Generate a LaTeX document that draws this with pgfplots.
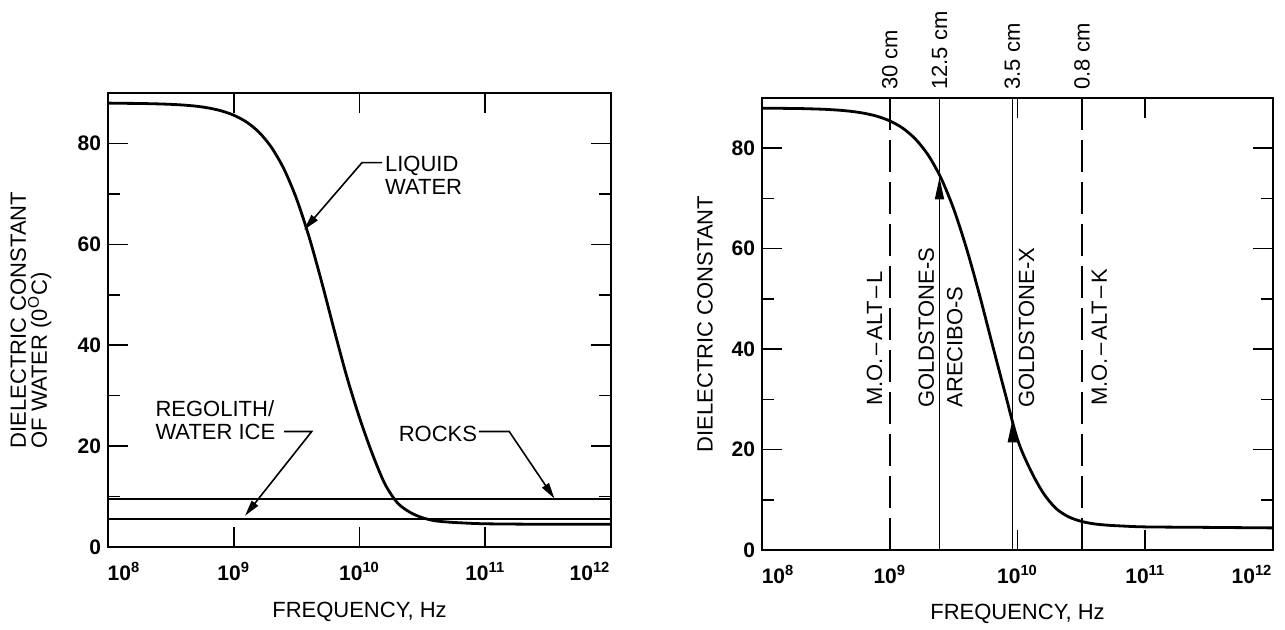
\documentclass[border=0pt]{standalone}
\usepackage{fontspec}
\setmainfont{Liberation Sans}
\usepackage{pgfplots}
\usepackage{pgfplotstable}
\pgfplotsset{compat=1.18}
\usetikzlibrary{arrows.meta}

\newcommand\annfont{\fontsize{11}{11.5}\selectfont}

% Dielectric constant of liquid water (0 C) versus frequency, left panel
\pgfplotstableread{
f        eps
1e8      88.0
1.259e8  87.96
1.585e8  87.94
1.995e8  87.90
2.512e8  87.84
3.162e8  87.75
3.981e8  87.61
5.012e8  87.39
6.310e8  87.03
7.943e8  86.47
1e9      85.6
1.259e9  84.27
1.585e9  82.24
1.995e9  79.22
2.512e9  74.89
3.162e9  68.98
3.981e9  61.39
5.012e9  52.45
6.310e9  42.89
7.943e9  33.68
1e10     25.63
1.259e10 18.6
1.585e10 12.6
1.995e10 8.8
2.512e10 6.9
3.162e10 5.8
3.981e10 5.2
5.012e10 4.95
6.310e10 4.8
1e11     4.6
3.162e11 4.5
1e12     4.5
}\waterleft

% Same relaxation curve, right panel
\pgfplotstableread{
f        eps
1e8      87.97
1.259e8  87.96
1.585e8  87.93
1.995e8  87.90
2.512e8  87.83
3.162e8  87.74
3.981e8  87.58
5.012e8  87.34
6.310e8  86.96
7.943e8  86.37
1e9      85.44
1.259e9  84.02
1.585e9  81.85
1.995e9  78.67
2.512e9  74.11
3.162e9  67.94
3.981e9  60.12
5.012e9  51.03
6.310e9  41.2
7.943e9  31.5
1e10     22.0
1.259e10 16.0
1.585e10 11.4
1.995e10 8.3
2.512e10 6.6
3.162e10 5.7
3.981e10 5.2
5.012e10 4.95
6.310e10 4.8
1e11     4.6
3.162e11 4.5
1e12     4.4
}\waterright

% Constant dielectric values of dry materials
\pgfplotstableread{
f     eps
1e8   9.5
1e12  9.5
}\rocks
\pgfplotstableread{
f     eps
1e8   5.5
1e12  5.5
}\regolith

\tikzset{
  dccurve/.style={black, line width=1.4pt},
  dclevel/.style={black, line width=1.2pt},
  dcpointer/.style={black, line width=0.8pt, -{Triangle[length=8pt,width=4pt]}},
}

\begin{document}
\begin{tikzpicture}[font=\annfont]
\useasboundingbox (0,0) rectangle (642.5pt,315pt);

% Left panel: water, water ice and rocks
\begin{axis}[
  scale only axis,
  at={(54pt,41.5pt)}, anchor=south west,
  width=251.5pt, height=227pt,
  xmode=log, log basis x=10,
  xmin=1e8, xmax=1e12, ymin=0, ymax=90,
  xtick={1e8,1e9,1e10,1e11,1e12},
  xticklabels={{\hspace*{16pt}10\textsuperscript{8}},10\textsuperscript{9},10\textsuperscript{10},10\textsuperscript{11},{10\textsuperscript{12}\hspace*{21pt}}},
  xminorticks=false,
  ytick={0,20,40,60,80},
  minor ytick={10,30,50,70},
  tick align=inside,
  major tick length=10pt,
  minor tick length=6pt,
  tick style={black, line width=0.8pt},
  axis line style={line width=1pt},
  tick label style={font=\fontsize{10.5}{12}\selectfont\bfseries},
  /pgf/number format/assume math mode=true,
  xticklabel style={yshift=-4pt},
  xlabel={FREQUENCY, Hz},
  x label style={at={(axis description cs:0.5,0)}, anchor=base, yshift=-35.5pt, font=\annfont},
  ylabel={DIELECTRIC CONSTANT\\OF WATER (0\textsuperscript{O}C)},
  y label style={at={(axis description cs:0,0.5)}, anchor=center, align=left,
    yshift=38.5pt, font=\fontsize{11}{8.5}\selectfont},
  clip=false,
]
\addplot[dccurve, smooth] table[x=f, y=eps] {\waterleft};
\addplot[dclevel] table[x=f, y=eps] {\rocks};
\addplot[dclevel] table[x=f, y=eps] {\regolith};

\node[anchor=west, align=left, inner sep=0pt] at (axis cs:1.585e10,73.7) {LIQUID\\WATER};
\draw[dcpointer] (axis cs:1.514e10,76.2) -- (axis cs:1.047e10,76.2) -- (axis cs:3.63e9,62.9);

\node[anchor=west, align=left, inner sep=0pt] at (axis cs:2.37e8,25.05) {REGOLITH/\\WATER ICE};
\draw[dcpointer] (axis cs:2.51e9,22.9) -- (axis cs:4.17e9,22.9) -- (axis cs:1.23e9,6.2);

\node[anchor=west, inner sep=0pt] at (axis cs:2.04e10,22.5) {ROCKS};
\draw[dcpointer] (axis cs:8.91e10,22.9) -- (axis cs:1.55e11,22.9) -- (axis cs:3.55e11,9.6);
\end{axis}

% Right panel: radar wavelengths
\begin{axis}[
  scale only axis,
  at={(381pt,40pt)}, anchor=south west,
  width=255.5pt, height=226pt,
  xmode=log, log basis x=10,
  xmin=1e8, xmax=1e12, ymin=0, ymax=90,
  xtick={1e8,1e9,1e10,1e11,1e12},
  xticklabels={{\hspace*{16pt}10\textsuperscript{8}},10\textsuperscript{9},10\textsuperscript{10},10\textsuperscript{11},{10\textsuperscript{12}\hspace*{21pt}}},
  xminorticks=false,
  ytick={0,20,40,60,80},
  minor ytick={10,30,50,70},
  tick align=inside,
  major tick length=10pt,
  minor tick length=6pt,
  tick style={black, line width=0.8pt},
  axis line style={line width=1pt},
  tick label style={font=\fontsize{10.5}{12}\selectfont\bfseries},
  /pgf/number format/assume math mode=true,
  xticklabel style={yshift=-4pt},
  xlabel={FREQUENCY, Hz},
  x label style={at={(axis description cs:0.5,0)}, anchor=base, yshift=-35pt, font=\annfont},
  ylabel={DIELECTRIC CONSTANT},
  y label style={at={(axis description cs:0,0.5)}, anchor=center,
    yshift=28.5pt, font=\annfont},
  clip=false,
]
\addplot[dccurve, smooth] table[x=f, y=eps] {\waterright};

\addplot[black, line width=1pt, dash pattern=on 16pt off 5pt] coordinates {(1e9,0) (1e9,90)};
\addplot[black, line width=0.7pt] coordinates {(2.45e9,0) (2.45e9,90)};
\addplot[black, line width=0.7pt] coordinates {(9.1e9,0) (9.1e9,90)};
\addplot[black, line width=1pt, dash pattern=on 16pt off 5pt] coordinates {(3.2e10,0) (3.2e10,90)};

\node[rotate=90, anchor=west, inner xsep=4pt, inner ysep=0pt] at (axis cs:1e9,90) {30 cm};
\node[rotate=90, anchor=west, inner xsep=4pt, inner ysep=0pt] at (axis cs:2.45e9,90) {12.5 cm};
\node[rotate=90, anchor=west, inner xsep=4pt, inner ysep=0pt] at (axis cs:9.1e9,90) {3.5 cm};
\node[rotate=90, anchor=west, inner xsep=4pt, inner ysep=0pt] at (axis cs:3.2e10,90) {0.8 cm};

\node[rotate=90, anchor=south west, inner xsep=0pt, inner ysep=3.5pt] at (axis cs:1e9,28.6) {M.O.\kern1.5pt--\kern1.5pt ALT\kern1.5pt--\kern1.5pt L};
\node[rotate=90, anchor=south west, inner xsep=0pt, inner ysep=2.5pt] at (axis cs:2.45e9,28.3) {GOLDSTONE-S};
\node[rotate=90, anchor=north west, inner xsep=0pt, inner ysep=3.5pt] at (axis cs:2.45e9,28.3) {ARECIBO-S};
\node[rotate=90, anchor=north west, inner xsep=0pt, inner ysep=3pt] at (axis cs:9.1e9,28.3) {GOLDSTONE-X};
\node[rotate=90, anchor=north west, inner xsep=0pt, inner ysep=4.5pt] at (axis cs:3.2e10,28.6) {M.O.\kern1.5pt--\kern1.5pt ALT\kern1.5pt--\kern1.5pt K};

\draw[black, line width=0.7pt, -{Triangle[length=11pt,width=4.5pt]}] (axis cs:2.45e9,60) -- (axis cs:2.45e9,74.2);
\draw[black, line width=0.7pt, -{Triangle[length=11pt,width=4.5pt]}] (axis cs:9.1e9,12) -- (axis cs:9.1e9,25.8);
\end{axis}
\end{tikzpicture}
\end{document}
